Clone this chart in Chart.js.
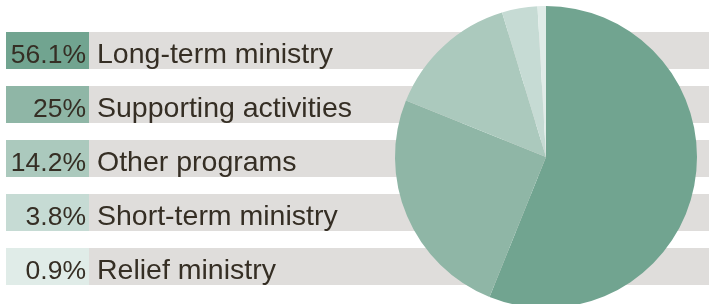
<!DOCTYPE html>
<html lang="en">
<head>
    <meta charset="UTF-8">
    <title>Spending by category</title>
    <script src="https://cdn.jsdelivr.net/npm/chart.js"></script>
    <style>
        html, body { margin: 0; padding: 0; background: #fff; overflow: hidden; }
        #wrap { width: 709px; height: 304px; overflow: hidden; position: relative; }
        canvas { position: absolute; left: 0; top: 0; }
    </style>
</head>
<body>
    <div id="wrap">
        <canvas id="pieChart" width="709" height="314"></canvas>
    </div>

    <script>
        // data
        const categories = ["Long-term ministry", "Supporting activities", "Other programs", "Short-term ministry", "Relief ministry"];
        const shares = [56.1, 25, 14.2, 3.8, 0.9];
        const shareLabels = ["56.1%", "25%", "14.2%", "3.8%", "0.9%"];
        const sliceColors = ["#71a490", "#8fb6a6", "#abc9bd", "#c6dbd4", "#e0ece8"];

        // draws the grey rows with the coloured percentage boxes behind the pie
        const rowLegend = {
            id: 'rowLegend',
            beforeDatasetsDraw(chart) {
                const ctx = chart.ctx;
                ctx.save();
                categories.forEach((name, i) => {
                    const top = 32 + i * 54;
                    ctx.fillStyle = '#dfdddb';
                    ctx.fillRect(89, top, 620, 37);
                    ctx.fillStyle = sliceColors[i];
                    ctx.fillRect(6, top, 83, 37);

                    ctx.fillStyle = '#352e24';
                    ctx.textBaseline = 'alphabetic';
                    ctx.font = '26.5px "Liberation Sans", Arial, sans-serif';
                    ctx.textAlign = 'right';
                    ctx.fillText(shareLabels[i], 86, top + 31);
                    ctx.font = '28.5px "Liberation Sans", Arial, sans-serif';
                    ctx.textAlign = 'left';
                    ctx.fillText(name, 97, top + 31);
                });
                ctx.restore();
            }
        };

        const ctx = document.getElementById('pieChart').getContext('2d');
        const pieChart = new Chart(ctx, {
            type: 'pie',
            data: {
                labels: categories,
                datasets: [{
                    data: shares,
                    backgroundColor: sliceColors,
                    borderWidth: 0
                }]
            },
            options: {
                responsive: false,
                animation: false,
                layout: {
                    padding: { left: 395, right: 12, top: 6, bottom: 6 }
                },
                plugins: {
                    legend: { display: false },
                    tooltip: { enabled: false }
                }
            },
            plugins: [rowLegend]
        });
    </script>
</body>
</html>
